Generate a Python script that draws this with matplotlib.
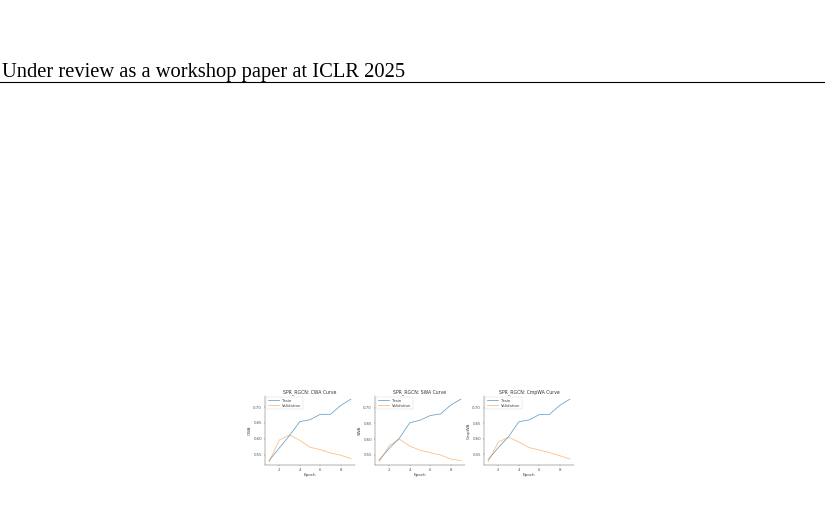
import matplotlib
matplotlib.use("Agg")
import matplotlib.pyplot as plt

# ---- data ----
epochs = [1, 2, 3, 4, 5, 6, 7, 8, 9]
metric_names = ["CWA", "SWA", "CmpWA"]
train_cwa = [0.531, 0.571, 0.610, 0.654, 0.660, 0.677, 0.677, 0.705, 0.725]
val_cwa = [0.527, 0.596, 0.612, 0.595, 0.573, 0.566, 0.555, 0.548, 0.537]
train_swa = [0.534, 0.571, 0.604, 0.652, 0.660, 0.675, 0.680, 0.708, 0.727]
val_swa = [0.528, 0.580, 0.600, 0.578, 0.565, 0.557, 0.550, 0.537, 0.532]
train_cmpwa = [0.532, 0.571, 0.606, 0.654, 0.660, 0.677, 0.678, 0.707, 0.727]
val_cmpwa = [0.525, 0.589, 0.604, 0.589, 0.571, 0.563, 0.555, 0.545, 0.534]
x_ticks = [2, 4, 6, 8]
y_ticks = [0.55, 0.60, 0.65, 0.70]
header_text = "Under review as a workshop paper at ICLR 2025"

W, H = 825, 508
fig = plt.figure(figsize=(W / 100, H / 100), dpi=100)
fig.patch.set_facecolor("white")

# header
fig.text(2 / W, 1 - 76.5 / H, header_text, fontsize=14.75,
         family=["Liberation Serif", "DejaVu Serif"], ha="left", va="baseline",
         color="black")
fig.add_artist(plt.Line2D([0, 1], [1 - 82 / H, 1 - 82 / H],
                          transform=fig.transFigure, color="black", lw=0.8))

series = [(train_cwa, val_cwa), (train_swa, val_swa), (train_cmpwa, val_cmpwa)]
lefts = [265, 375, 484]
top, bottom, width = 396, 465, 90

for name, (tr, va), left in zip(metric_names, series, lefts):
    ax = fig.add_axes([left / W, 1 - bottom / H, width / W, (bottom - top) / H])
    ax.plot(epochs, tr, color="#1f77b4", lw=0.55, alpha=0.7, label="Train")
    ax.plot(epochs, va, color="#ff7f0e", lw=0.55, alpha=0.55, label="Validation")
    ax.set_title(f"SPR_RGCN: {name} Curve", fontsize=3.3, pad=2, color="#333333")
    ax.set_xlabel("Epoch", fontsize=3.0, labelpad=0.6, color="#444444")
    ax.set_ylabel(name, fontsize=3.0, labelpad=0.8, color="#444444")
    ax.set_xticks(x_ticks)
    ax.set_yticks(y_ticks)
    ax.set_yticklabels([f"{v:.2f}" for v in y_ticks])
    ax.tick_params(labelsize=2.8, length=1.0, width=0.3, pad=1.2,
                   colors="#555555")
    for s in ["top", "right"]:
        ax.spines[s].set_visible(False)
    for s in ["left", "bottom"]:
        ax.spines[s].set_linewidth(0.35)
        ax.spines[s].set_color("#666666")
    leg = ax.legend(loc="upper left", fontsize=2.8, frameon=True,
                    handlelength=3.0, borderpad=0.35, labelspacing=0.3,
                    handletextpad=0.8, borderaxespad=0.3)
    leg.get_frame().set_linewidth(0.3)
    leg.get_frame().set_edgecolor("#cccccc")
    for t in leg.get_texts():
        t.set_color("#444444")

fig.savefig("out.png", dpi=100)
